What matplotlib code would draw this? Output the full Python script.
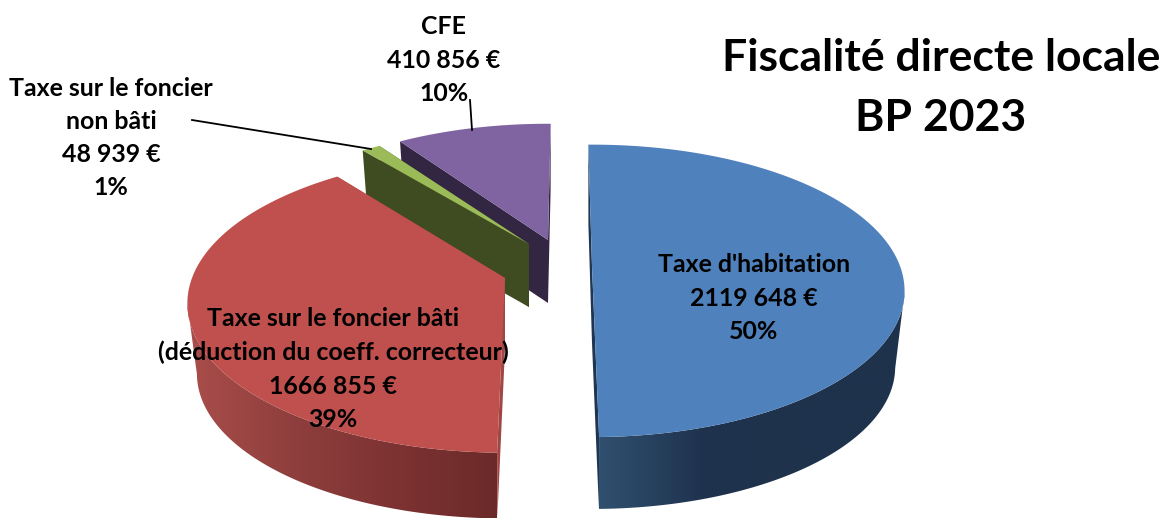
#!/usr/bin/python
import numpy as np
from matplotlib import use
use('agg')
import matplotlib.pyplot as plt
from matplotlib.colors import LinearSegmentedColormap
from matplotlib.patches import Polygon

plt.rcParams['font.family'] = ['Lato', 'DejaVu Sans']

names = ["Taxe d'habitation", "Taxe sur le foncier bâti\n(déduction du coeff. correcteur)",
         "Taxe sur le foncier\nnon bâti", "CFE"]
values = [2119648, 1666855, 48939, 410856]
value_labels = ['2119 648 €', '1666 855 €', '48 939 €', '410 856 €']
pct_labels = ['50%', '39%', '1%', '10%']

top_colors = ['#4f81bd', '#c0504d', '#9bbb59', '#8064a2']
wall_colors = ['#1f3551', '#a04745', '#3f4b20', '#332643']
rim_colors = [['#30506f', '#1f334e', '#1e324c', '#1e324c'],
              ['#a94e4b', '#8f3f3d', '#7d3332', '#6b2a29'], None, None]

# geometry of each exploded slice: apex x, apex y, x radius, y radius, depth, angle shift
shape = [(592, 266, 308, 142, 77, 0.0),
         (505, 278, 313, 145, 71, -2.3),
         (529, 244, 305, 135, 63, -1.6),
         (548, 240, 300, 136, 63, -1.4)]
label_pos = [(754, 298), (333, 369), (111, 138), (444, 60)]
persp = 0.17
shrink = 0.97


def project(s, t, drop=False):
    cx, cy, a, b, d, _ = s
    t = np.radians(t)
    w = 1 + persp*np.sin(t)
    x = a*np.cos(t)/w
    y = b*np.sin(t)/w
    if drop:
        return np.column_stack([cx + shrink*x, cy - shrink*y + d])
    return np.column_stack([cx + x, cy - y])


def apex(s, drop=False):
    return np.array([[s[0], s[1] + (s[4] if drop else 0)]])


def draw_slice(ax, i, t0, t1):
    s = shape[i]
    z = 4 - i
    ts = np.linspace(t0, t1, 200)
    rim = project(s, ts)
    # radial walls first, the top face covers what should be hidden
    for t in (t0, t1):
        e, eb = project(s, np.array([t])), project(s, np.array([t]), True)
        ax.add_patch(Polygon(np.vstack([apex(s), e, eb, apex(s, True)]), fc=wall_colors[i], ec='none', zorder=z))
    if rim_colors[i] is not None:
        # only the front part of the outer wall shows
        tf = ts[np.sin(np.radians(ts)) < -persp]
        poly = np.vstack([project(s, tf), project(s, tf[::-1], True)])
        patch = Polygon(poly, fc='none', ec='none', transform=ax.transData)
        ax.add_patch(patch)
        cmap = LinearSegmentedColormap.from_list('rim%d' % i, rim_colors[i])
        im = ax.imshow(np.linspace(0, 1, 256).reshape(1, -1), cmap=cmap, aspect='auto', zorder=z+0.1,
                       extent=[poly[:, 0].min(), poly[:, 0].max(), poly[:, 1].max(), poly[:, 1].min()])
        im.set_clip_path(patch)
    ax.add_patch(Polygon(np.vstack([apex(s), rim]), fc=top_colors[i], ec='none', zorder=z+0.2))


def main():
    fig = plt.figure(figsize=(11.61, 5.18), dpi=100)
    ax = fig.add_axes([0, 0, 1, 1])
    ax.axis('off')

    start = 90.8
    fracs = np.array(values)/float(sum(values))
    for i in range(len(values)):
        sweep = 360*fracs[i]
        draw_slice(ax, i, start + shape[i][5], start + shape[i][5] - sweep)
        start -= sweep

    ax.set_xlim(0, 1161)
    ax.set_ylim(518, 0)

    ax.plot([192, 371], [120, 149], color='k', lw=1.3, zorder=6)
    ax.plot([470, 472], [100, 130], color='k', lw=1.3, zorder=6)

    for i in range(len(values)):
        txt = '%s\n%s\n%s' % (names[i], value_labels[i], pct_labels[i])
        ax.text(label_pos[i][0], label_pos[i][1], txt, ha='center', va='center', fontsize=17.9,
                fontweight='bold', color='k', linespacing=1.54, zorder=7)

    ax.text(941, 88, 'Fiscalité directe locale\nBP 2023', ha='center', va='center', fontsize=32,
            fontweight='bold', color='k', linespacing=1.58, zorder=7)

    fig.savefig('out.png', dpi=100)


if __name__ == '__main__':
    main()
